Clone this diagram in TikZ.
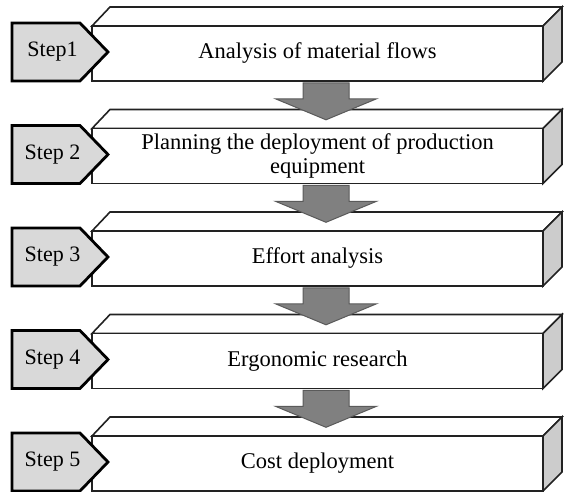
\documentclass[tikz,border=0pt]{standalone}
\usepackage{fontspec}
\setmainfont{Liberation Serif}
\usetikzlibrary{calc}
\definecolor{sidegray}{HTML}{CCCCCC}
\definecolor{stepgray}{HTML}{D9D9D9}
\definecolor{arrowfill}{HTML}{808080}
\definecolor{arrowline}{HTML}{5A5A5A}
\definecolor{edge}{HTML}{222222}
\tikzset{
  front/.style={draw=edge, line width=1.6pt, fill=white, rectangle, minimum width=451pt, minimum height=55pt, inner sep=0pt, align=center, font=\fontsize{22.5}{23.5}\selectfont},
  topface/.style={draw=edge, line width=1.6pt, fill=white, line join=miter},
  sideface/.style={draw=edge, line width=1.6pt, fill=sidegray, line join=miter},
  stepshape/.style={draw=black, line width=2.8pt, fill=stepgray, line join=miter},
  steptext/.style={inner sep=0pt, font=\fontsize{22}{24}\selectfont},
  blockarrow/.style={draw=arrowline, line width=1pt, fill=arrowfill, line join=miter}
}
\begin{document}
\begin{tikzpicture}[x=1pt,y=-1pt]
\useasboundingbox (0,0) rectangle (565,492);
\foreach \i/\lab/\txt in {1/Step1/Analysis of material flows,
  2/Step 2/Planning the deployment of production\\equipment,
  3/Step 3/Effort analysis,
  4/Step 4/Ergonomic research,
  5/Step 5/Cost deployment}{
  \pgfmathsetmacro{\o}{102.5*(\i-1)}
  % 3D box
  \draw[topface] (92,26+\o) -- (110,7+\o) -- (562,7+\o) -- (543,26+\o) -- cycle;
  \draw[sideface] (543,26+\o) -- (562,7+\o) -- (562,62+\o) -- (543,81+\o) -- cycle;
  \node[front] (b\i) at (317.5,53.5+\o) {\txt};
  % step tag
  \draw[stepshape] (12,23+\o) -- (80,23+\o) -- (108,52+\o) -- (80,81+\o) -- (12,81+\o) -- cycle;
  \node[steptext] (s\i) at (52.5,52+\o) {\lab};
}
\foreach \i in {1,2,3,4}{
  \coordinate (a\i) at ($(b\i.south)+(8.5,0)$);
  \draw[blockarrow] ($(a\i)+(-23,1)$) -- ($(a\i)+(-23,17)$) -- ($(a\i)+(-50.5,17)$)
    -- ($(a\i)+(0,38)$) -- ($(a\i)+(50.5,17)$) -- ($(a\i)+(23,17)$) -- ($(a\i)+(23,1)$) -- cycle;
}
\end{tikzpicture}
\end{document}
